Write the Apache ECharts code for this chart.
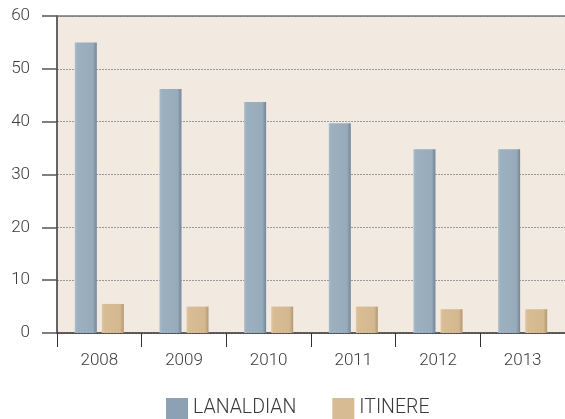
<!DOCTYPE html>
<html><head><meta charset="utf-8">
<script src="https://cdn.jsdelivr.net/npm/echarts@6/dist/echarts.min.js"></script>
<style>html,body{margin:0;padding:0;background:#fff}#c{width:565px;height:419px}</style>
</head><body><div id="c"></div>
<script>
const categories = ['2008','2009','2010','2011','2012','2013'];
const lanaldian = [55, 46.2, 43.7, 39.7, 34.8, 34.8];
const itinere = [5.5, 5.0, 5.0, 5.0, 4.5, 4.5];
const yTicks = [0, 10, 20, 30, 40, 50, 60];

const font = 'Roboto';
function grad(c0, c1, c2, c3) {
  return new echarts.graphic.LinearGradient(0, 0, 1, 0, [
    {offset: 0, color: c0}, {offset: 0.12, color: c1}, {offset: 0.82, color: c2}, {offset: 1, color: c3}
  ]);
}
const chart = echarts.init(document.getElementById('c'));
chart.setOption({
  animation: false,
  grid: {left: 57, right: 0, top: 16, bottom: 86, show: true, backgroundColor: '#f2eae0', borderWidth: 0},
  legend: {
    bottom: 0, left: 166, padding: 0, itemWidth: 22, itemHeight: 21, itemGap: 36, icon: 'rect',
    textStyle: {fontFamily: font, fontSize: 19.5, color: '#3a3a3a', fontWeight: 300},
    data: [
      {name: 'LANALDIAN', itemStyle: {color: '#8ca2b4'}},
      {name: 'ITINERE', itemStyle: {color: '#d7bb93'}}
    ]
  },
  xAxis: [{
    type: 'category', data: categories,
    axisLine: {lineStyle: {color: '#333', width: 1.5}},
    axisTick: {show: true, length: 14, alignWithLabel: false, lineStyle: {color: '#333'}},
    axisLabel: {fontFamily: font, fontSize: 17, color: '#3a3a3a', margin: 19, fontWeight: 300},
    splitLine: {show: false}
  }, {
    type: 'category', data: categories, position: 'top',
    axisLine: {show: true, lineStyle: {color: '#777', width: 1.5}},
    axisTick: {show: false}, axisLabel: {show: false}
  }],
  yAxis: {
    type: 'value', min: 0, max: 60, interval: 10,
    axisLine: {show: true, lineStyle: {color: '#333', width: 1.5}},
    axisTick: {show: true, length: 15, lineStyle: {color: '#555', width: 1.5}},
    axisLabel: {fontFamily: font, fontSize: 17, color: '#3a3a3a', margin: 27, fontWeight: 300,
      formatter: v => yTicks.includes(v) ? String(v) : ''},
    splitLine: {show: true, lineStyle: {color: '#999', type: [2, 1], width: 1}}
  },
  series: [
    {name: 'LANALDIAN', type: 'bar', data: lanaldian, barWidth: 22, barGap: '23%',
      itemStyle: {color: grad('#aabdcb', '#9cb0bf', '#97abba', '#72869a')}},
    {name: 'ITINERE', type: 'bar', data: itinere, barWidth: 22,
      itemStyle: {color: grad('#e0c8a6', '#d7bc94', '#d4b990', '#b39975')}}
  ]
});
</script></body></html>
